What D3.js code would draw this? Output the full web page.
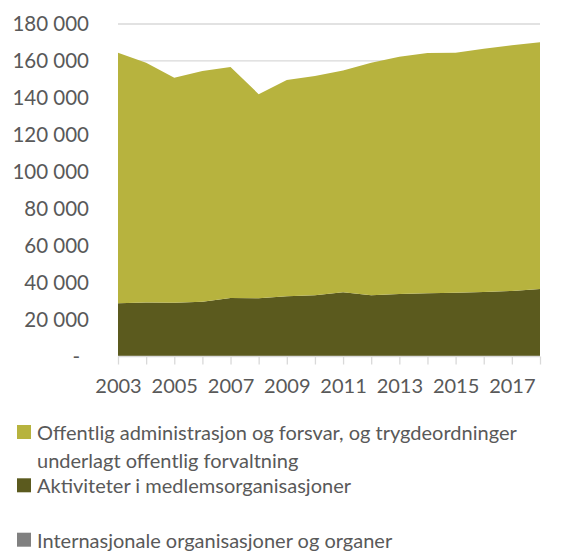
<!DOCTYPE html>
<html>
<head>
<meta charset="utf-8">
<script src="https://cdn.jsdelivr.net/npm/d3@7"></script>
<style>
  body { margin: 0; background: #fff; }
  svg text { font-family: Lato, "Open Sans", sans-serif; fill: #595959; }
</style>
</head>
<body>
<div id="chart"></div>
<script>
var years = [2003, 2004, 2005, 2006, 2007, 2008, 2009, 2010, 2011, 2012, 2013, 2014, 2015, 2016, 2017, 2018];
var medlem = [28800, 29300, 29100, 29700, 31700, 31500, 32600, 33100, 34800, 33100, 33800, 34200, 34500, 34900, 35500, 36500];
var offentlig = [135700, 129700, 121800, 124900, 125000, 110500, 117100, 118700, 120000, 125900, 128500, 130100, 129900, 131700, 133000, 133600];
var internasjonal = [0, 0, 0, 0, 0, 0, 0, 0, 0, 0, 0, 0, 0, 0, 0, 0];
var yTicks = [0, 20000, 40000, 60000, 80000, 100000, 120000, 140000, 160000, 180000];

var width = 577, height = 553;
var margin = {top: 24, right: 37, bottom: 196.5, left: 118};

var rows = years.map(function(y, i) {
  return {year: y, medlem: medlem[i], offentlig: offentlig[i], internasjonal: internasjonal[i]};
});

var stack = d3.stack().keys(["medlem", "offentlig", "internasjonal"]);
var layers = stack(rows);

var color = d3.scaleOrdinal()
  .domain(["medlem", "offentlig", "internasjonal"])
  .range(["#5b5a1e", "#b7b33e", "#808080"]);

var x = d3.scalePoint()
  .domain(years)
  .range([margin.left, width - margin.right]);

var y = d3.scaleLinear()
  .domain([0, 180000])
  .range([height - margin.bottom, margin.top]);

var svg = d3.select("#chart").append("svg")
  .attr("width", width)
  .attr("height", height);

// gridlines
svg.append("g")
  .selectAll("line")
  .data(yTicks.filter(function(d) { return d > 0; }))
  .enter().append("line")
  .attr("x1", margin.left)
  .attr("x2", width - margin.right)
  .attr("y1", function(d) { return y(d); })
  .attr("y2", function(d) { return y(d); })
  .attr("stroke", "#d9d9d9")
  .attr("stroke-width", 1.3);

var area = d3.area()
  .x(function(d) { return x(d.data.year); })
  .y0(function(d) { return y(d[0]); })
  .y1(function(d) { return y(d[1]); });

svg.append("g")
  .selectAll("path")
  .data(layers)
  .enter().append("path")
  .attr("d", area)
  .attr("fill", function(d) { return color(d.key); });

// y axis
var locale = d3.formatLocale({decimal: ",", thousands: " ", grouping: [3], currency: ["", ""]});
var fmt = locale.format(",d");
var yAxis = d3.axisLeft(y)
  .tickValues(yTicks)
  .tickSize(0)
  .tickPadding(29)
  .tickFormat(function(d) { return d === 0 ? "-" : fmt(d); });

var gy = svg.append("g")
  .attr("transform", "translate(" + margin.left + ",0)")
  .call(yAxis)
  .call(function(g) { g.select(".domain").remove(); });
gy.selectAll("text")
  .style("font-size", "20.5px")
  .attr("fill", "#595959")
  .attr("dx", function(d) { return d === 0 ? -9 : 0; });

// x axis
var xAxis = d3.axisBottom(x)
  .tickSize(8)
  .tickPadding(14)
  .tickFormat(function(d) { return d % 2 === 1 ? d : ""; });

var gx = svg.append("g")
  .attr("transform", "translate(0," + y(0) + ")")
  .call(xAxis);
gx.select(".domain").attr("stroke", "#d9d9d9").attr("stroke-width", 1.3).attr("d", "M" + margin.left + ",0H" + (width - margin.right));
gx.selectAll(".tick line").attr("stroke", "#d9d9d9").attr("stroke-width", 1.3);
gx.selectAll("text")
  .style("font-size", "20px")
  .attr("fill", "#595959");

// legend
var legendItems = [
  {key: "offentlig", lines: ["Offentlig administrasjon og forsvar, og trygdeordninger", "underlagt offentlig forvaltning"], y: 440},
  {key: "medlem", lines: ["Aktiviteter i medlemsorganisasjoner"], y: 493.3},
  {key: "internasjonal", lines: ["Internasjonale organisasjoner og organer"], y: 547.7}
];

var lg = svg.append("g").selectAll("g")
  .data(legendItems)
  .enter().append("g");

lg.append("rect")
  .attr("x", 17)
  .attr("y", function(d) { return d.y - 15; })
  .attr("width", 14)
  .attr("height", 14)
  .attr("fill", function(d) { return color(d.key); });

lg.each(function(d) {
  var t = d3.select(this).append("text")
    .attr("x", 37)
    .attr("y", d.y)
    .style("font-size", "20px");
  d.lines.forEach(function(line, i) {
    t.append("tspan")
      .attr("x", 37)
      .attr("dy", i === 0 ? 0 : 27.7)
      .text(line);
  });
});
</script>
</body>
</html>
